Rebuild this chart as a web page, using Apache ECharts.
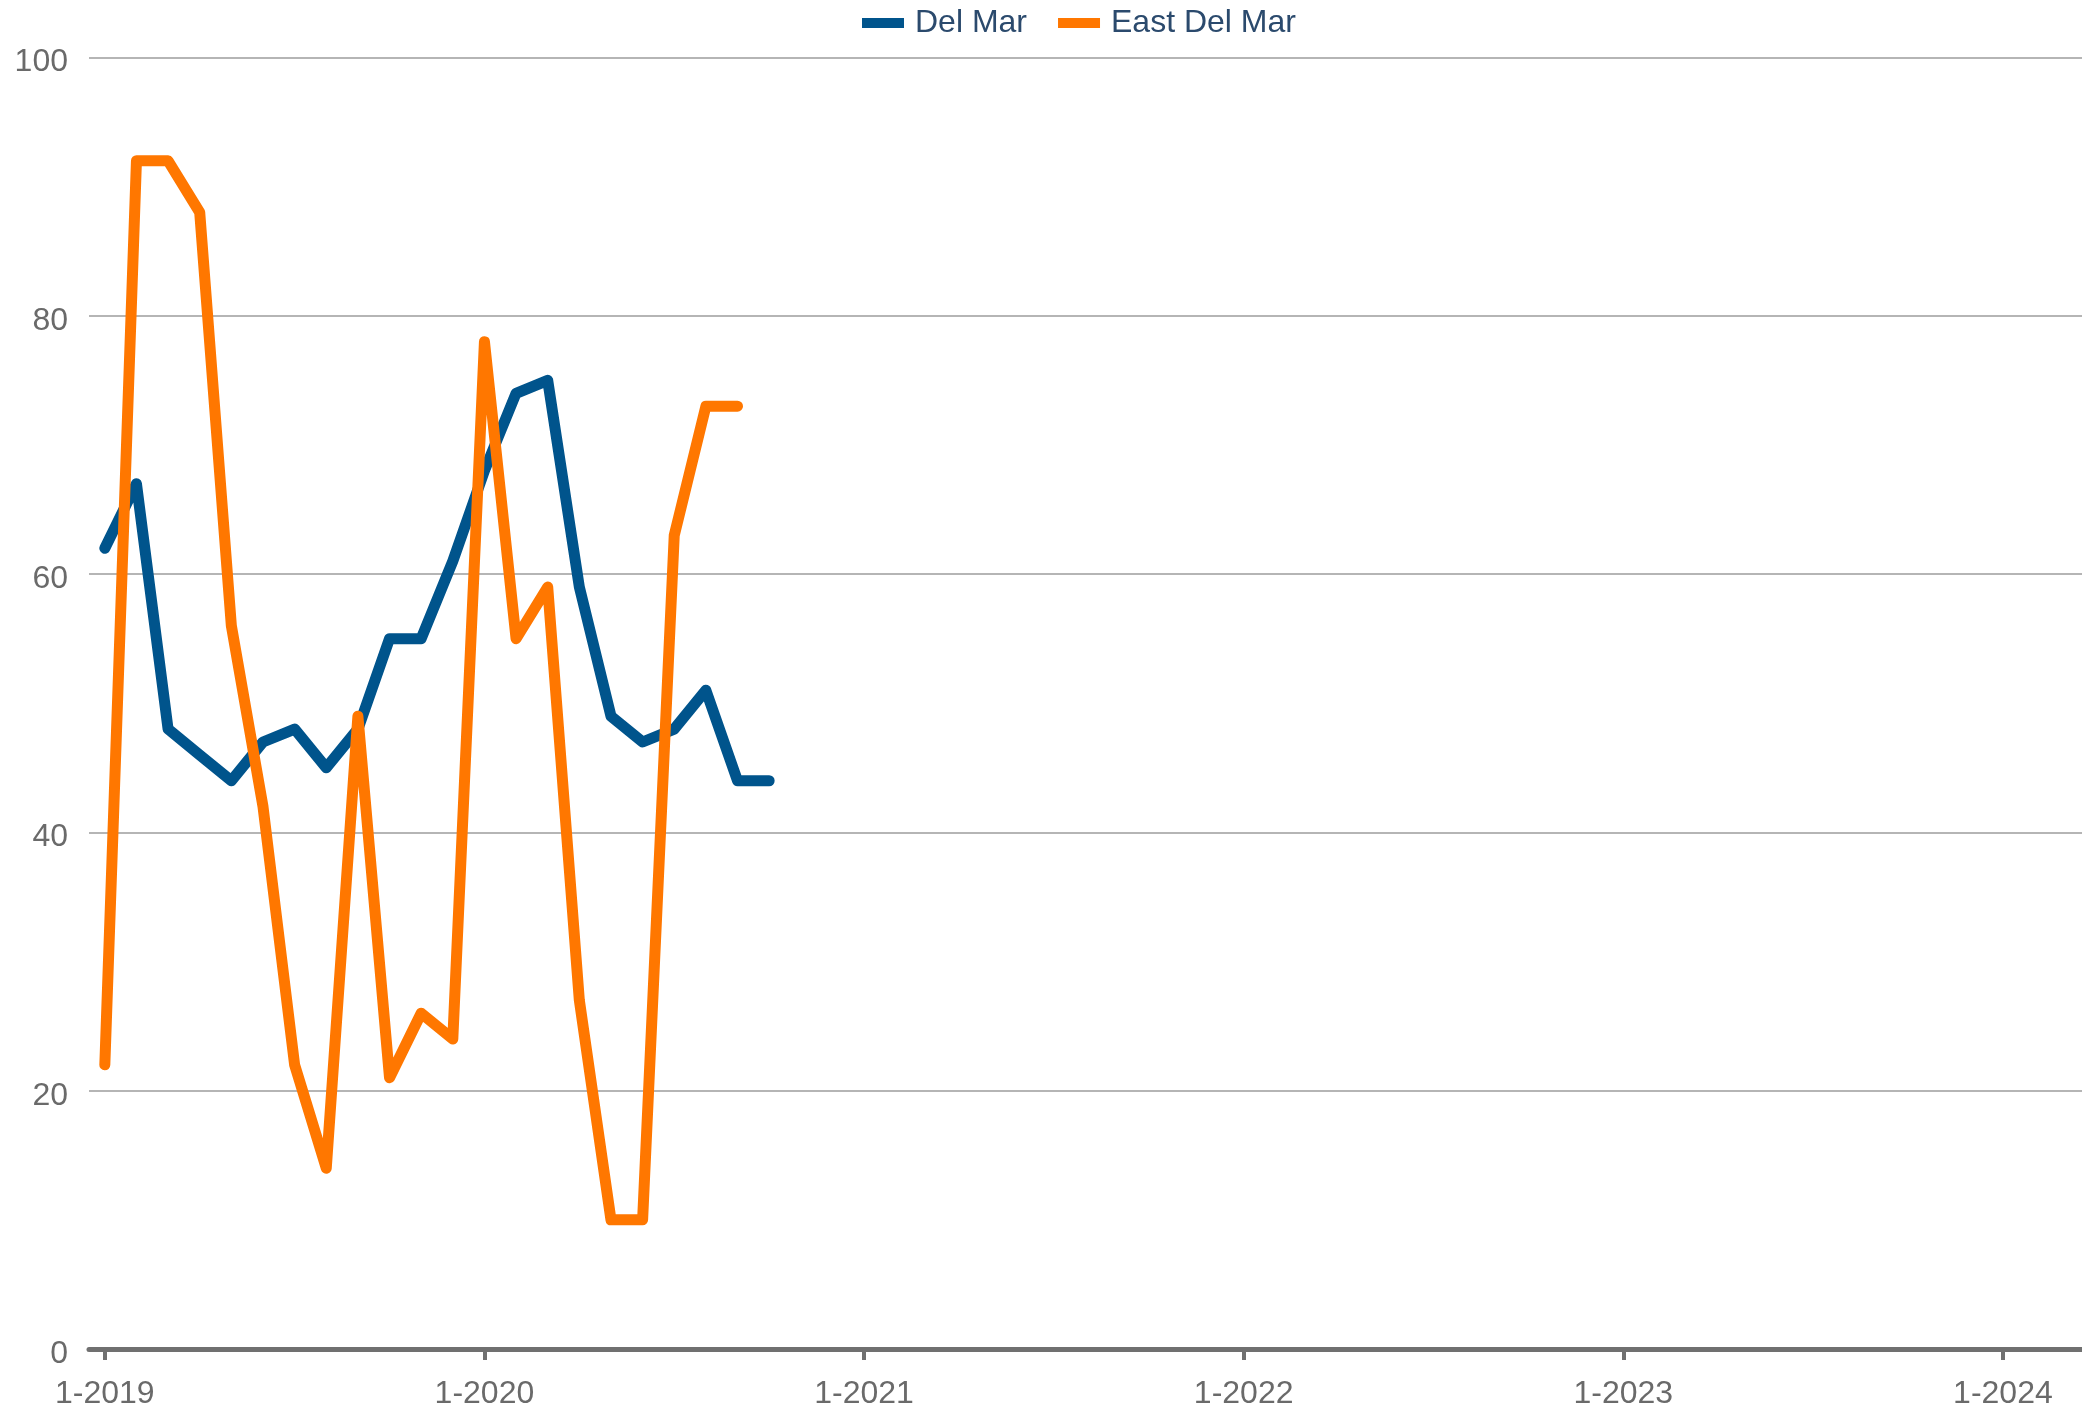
<!DOCTYPE html>
<html>
<head>
<meta charset="utf-8">
<script src="https://cdn.jsdelivr.net/npm/echarts@6/dist/echarts.min.js"></script>
<style>
html,body{margin:0;padding:0;background:#fff;}
#chart{width:2082px;height:1410px;}
</style>
</head>
<body>
<div id="chart"></div>
<script>
const categories = [
  "1-2019","2-2019","3-2019","4-2019","5-2019","6-2019","7-2019","8-2019","9-2019","10-2019","11-2019","12-2019",
  "1-2020","2-2020","3-2020","4-2020","5-2020","6-2020","7-2020","8-2020","9-2020","10-2020","11-2020","12-2020",
  "1-2021","2-2021","3-2021","4-2021","5-2021","6-2021","7-2021","8-2021","9-2021","10-2021","11-2021","12-2021",
  "1-2022","2-2022","3-2022","4-2022","5-2022","6-2022","7-2022","8-2022","9-2022","10-2022","11-2022","12-2022",
  "1-2023","2-2023","3-2023","4-2023","5-2023","6-2023","7-2023","8-2023","9-2023","10-2023","11-2023","12-2023",
  "1-2024","2-2024","3-2024"
];
const delMar = [62, 67, 48, 46, 44, 47, 48, 45, 48, 55, 55, 61, 68, 74, 75, 59, 49, 47, 48, 51, 44, 44];
const eastDelMar = [22, 92, 92, 88, 56, 42, 22, 14, 49, 21, 26, 24, 78, 55, 59, 27, 10, 10, 63, 73, 73];
const yTicks = { min: 0, max: 100, interval: 20 };

const chart = echarts.init(document.getElementById('chart'));
chart.setOption({
  animation: false,
  backgroundColor: '#ffffff',
  legend: {
    top: 2,
    left: 857,
    itemWidth: 42,
    itemHeight: 10,
    itemGap: 31,
    icon: 'rect',
    textStyle: { fontFamily: 'Liberation Sans, Arial, sans-serif', fontSize: 32, color: '#2b4a6d', padding: [2, 0, 0, 6] },
    data: ['Del Mar', 'East Del Mar']
  },
  grid: { left: 89, right: 0, top: 57.5, bottom: 60, containLabel: false },
  xAxis: {
    type: 'category',
    data: categories,
    boundaryGap: true,
    axisLine: { show: true, lineStyle: { color: '#707070', width: 5 } },
    axisTick: { show: true, alignWithLabel: true, interval: 11, length: 11, lineStyle: { color: '#707070', width: 4 } },
    axisLabel: { interval: 11, margin: 29, fontFamily: 'Liberation Sans, Arial, sans-serif', fontSize: 32, color: '#6a6a6a' },
    splitLine: { show: false }
  },
  yAxis: {
    type: 'value',
    min: yTicks.min, max: yTicks.max, interval: yTicks.interval,
    axisLine: { show: false },
    axisTick: { show: false },
    axisLabel: { margin: 21, verticalAlign: 'top', lineHeight: 10, fontFamily: 'Liberation Sans, Arial, sans-serif', fontSize: 32, color: '#6a6a6a' },
    splitLine: { show: true, lineStyle: { color: '#b5b5b5', width: 2 } }
  },
  series: [
    {
      name: 'Del Mar', type: 'line', data: delMar, symbol: 'none',
      itemStyle: { color: '#00548c' },
      lineStyle: { color: '#00548c', width: 11, cap: 'round', join: 'round' },
      z: 2
    },
    {
      name: 'East Del Mar', type: 'line', data: eastDelMar, symbol: 'none',
      itemStyle: { color: '#ff7700' },
      lineStyle: { color: '#ff7700', width: 11, cap: 'round', join: 'round' },
      z: 3
    }
  ]
});
</script>
</body>
</html>
